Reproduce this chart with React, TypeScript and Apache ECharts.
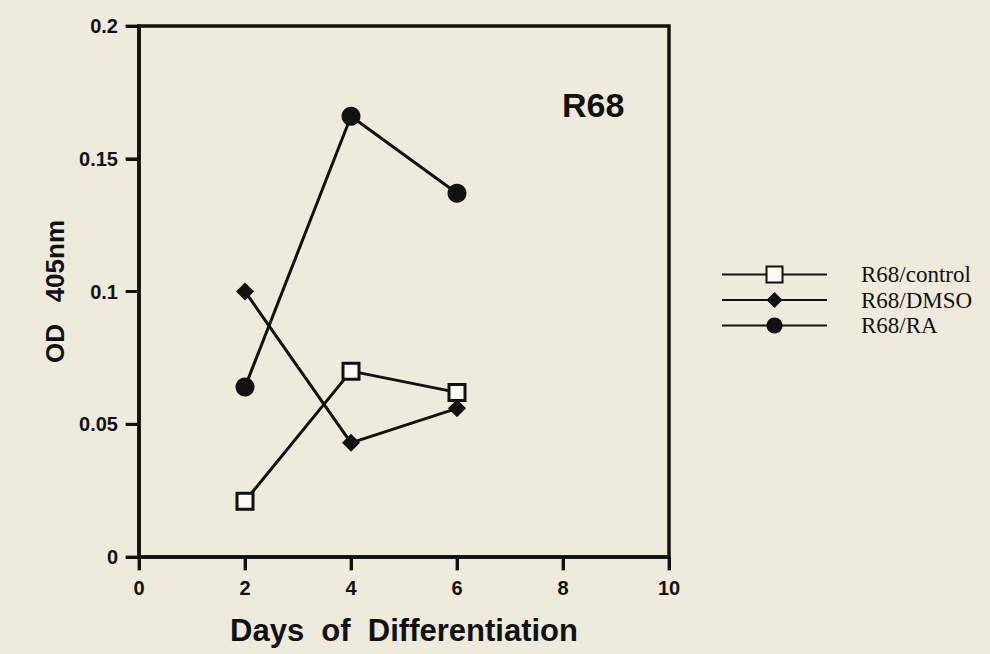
import React, { useEffect, useRef } from "react";
import * as echarts from "echarts";

const days = [2, 4, 6];
const controlValues = [0.021, 0.07, 0.062];
const dmsoValues = [0.1, 0.043, 0.056];
const raValues = [0.064, 0.166, 0.137];
const seriesNames = ["R68/control", "R68/DMSO", "R68/RA"];
const panelLabel = "R68";
const xTickValues = [0, 2, 4, 6, 8, 10];
const yTickValues = [0, 0.05, 0.1, 0.15, 0.2];

export default function App() {
  const ref = useRef<HTMLDivElement>(null);
  useEffect(() => {
    if (!ref.current) return;
    const chart = echarts.init(ref.current, null, { renderer: "svg" });
    const toPairs = (vals: number[]) => days.map((d, i) => [d, vals[i]]);
    const lineStyle = { color: "#111", width: 3 };
    const labelStyle = () => ({
      fontFamily: "Liberation Sans",
      fontWeight: "bold",
      fontSize: 20,
      color: "#111",
      margin: 21,
    });
    const tickStyle = () => ({ show: true, inside: false, length: 13, lineStyle: { color: "#111", width: 3 } });
    chart.setOption({
      animation: false,
      backgroundColor: "#efebdc",
      grid: {
        left: 139,
        right: 321,
        top: 26,
        bottom: 97,
        show: true,
        borderColor: "#111",
        borderWidth: 3.5,
        backgroundColor: "transparent",
      },
      title: {
        text: panelLabel,
        left: 562,
        top: 88,
        padding: 0,
        textStyle: {
          fontFamily: "Liberation Sans",
          fontWeight: "bold",
          fontSize: 34,
          color: "#111",
        },
      },
      legend: {
        orient: "vertical",
        left: 721,
        top: 263,
        padding: 0,
        itemWidth: 105,
        itemHeight: 20,
        itemGap: 2.5,
        data: seriesNames,
        textStyle: {
          fontFamily: "Liberation Serif",
          fontSize: 23,
          lineHeight: 20,
          color: "#111",
          padding: [0, 0, 0, 29],
        },
      },
      xAxis: {
        type: "value",
        min: 0,
        max: 10,
        interval: 2,
        name: "Days  of  Differentiation",
        nameLocation: "middle",
        nameGap: 58,
        nameTextStyle: {
          fontFamily: "Liberation Sans",
          fontWeight: "bold",
          fontSize: 31,
          color: "#111",
        },
        axisLine: { show: true, lineStyle: { color: "#111", width: 3.5 } },
        axisTick: tickStyle(),
        axisLabel: labelStyle(),
        splitLine: { show: false },
      },
      yAxis: {
        type: "value",
        min: 0,
        max: 0.2,
        interval: 0.05,
        name: "OD   405nm",
        nameLocation: "middle",
        nameGap: 63,
        nameRotate: 90,
        nameTextStyle: {
          fontFamily: "Liberation Sans",
          fontWeight: "bold",
          fontSize: 26,
          color: "#111",
        },
        axisLine: { show: true, lineStyle: { color: "#111", width: 3.5 } },
        axisTick: tickStyle(),
        axisLabel: labelStyle(),
        splitLine: { show: false },
      },
      series: [
        {
          type: "scatter",
          data: xTickValues.map((v) => [v, 0]),
          symbol: "rect",
          symbolSize: [3, 13],
          symbolOffset: [0, 7],
          itemStyle: { color: "#111" },
          clip: false,
          silent: true,
          z: 1,
        },
        {
          type: "scatter",
          data: yTickValues.map((v) => [0, v]),
          symbol: "rect",
          symbolSize: [13, 3],
          symbolOffset: [-7, 0],
          itemStyle: { color: "#111" },
          clip: false,
          silent: true,
          z: 1,
        },
        {
          name: seriesNames[0],
          type: "line",
          data: toPairs(controlValues),
          symbol: "rect",
          symbolSize: 16,
          lineStyle,
          itemStyle: { color: "#fbfaf3", borderColor: "#111", borderWidth: 3 },
          z: 3,
        },
        {
          name: seriesNames[1],
          type: "line",
          data: toPairs(dmsoValues),
          symbol: "diamond",
          symbolSize: 18,
          lineStyle,
          itemStyle: { color: "#111", borderColor: "#111", borderWidth: 0 },
          z: 2,
        },
        {
          name: seriesNames[2],
          type: "line",
          data: toPairs(raValues),
          symbol: "circle",
          symbolSize: 19,
          lineStyle,
          itemStyle: { color: "#111", borderColor: "#111", borderWidth: 0 },
          z: 2,
        },
      ],
    });
    return () => chart.dispose();
  }, []);
  return <div ref={ref} style={{ width: 990, height: 654, position: "absolute", left: 0, top: 0 }} />;
}
